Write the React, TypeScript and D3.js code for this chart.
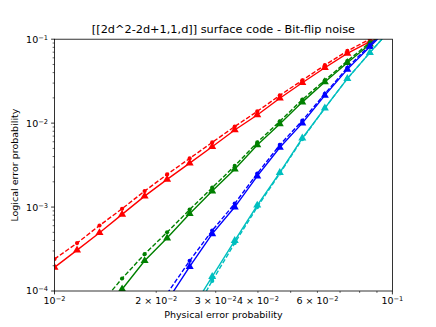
import React, { useEffect, useRef } from 'react'
import * as d3 from 'd3'

// physical error probabilities (log spaced, 15 per decade)
const physErr = [0.01, 0.01166, 0.01359, 0.01585, 0.01848, 0.02154, 0.02512, 0.02929,
  0.03415, 0.03981, 0.04642, 0.05412, 0.0631, 0.07356, 0.08577, 0.1]

// logical error probabilities (null = not plotted / far out of view)
const redSolid = [1.91e-4, 3.07e-4, 4.94e-4, 8.18e-4, 1.35e-3, 2.14e-3, 3.34e-3, 5.24e-3,
  8.28e-3, 1.25e-2, 1.98e-2, 3.03e-2, 4.57e-2, 6.79e-2, 9.33e-2, 0.126]
const redDashed = [2.40e-4, 3.72e-4, 6.03e-4, 9.55e-4, 1.55e-3, 2.45e-3, 3.80e-3, 5.89e-3,
  9.12e-3, 1.38e-2, 2.14e-2, 3.24e-2, 4.90e-2, 7.24e-2, 0.100, 0.132]
const greenSolid = [null, null, null, 1.05e-4, 2.29e-4, 4.27e-4, 8.32e-4, 1.55e-3,
  2.82e-3, 5.50e-3, 9.77e-3, 1.78e-2, 3.09e-2, 5.25e-2, 8.71e-2, 0.141]
const greenDashed = [null, null, 6.76e-5, 1.41e-4, 2.75e-4, 5.01e-4, 9.33e-4, 1.70e-3,
  3.09e-3, 5.89e-3, 1.05e-2, 1.91e-2, 3.24e-2, 5.50e-2, 9.12e-2, 0.145]
const blueSolid = [null, null, null, null, null, 7.59e-5, 1.95e-4, 4.79e-4,
  1.0e-3, 2.34e-3, 5.13e-3, 1.0e-2, 2.14e-2, 4.37e-2, 8.13e-2, 0.151]
const blueDashed = [null, null, null, null, null, 9.3e-5, 2.29e-4, 5.25e-4,
  1.10e-3, 2.51e-3, 5.50e-3, 1.07e-2, 2.24e-2, 4.57e-2, 8.51e-2, 0.158]
const cyanSolid = [null, null, null, null, null, null, 5.50e-5, 1.48e-4,
  3.98e-4, 1.05e-3, 2.57e-3, 6.61e-3, 1.51e-2, 3.39e-2, 6.92e-2, 0.138]
const cyanDashed = [null, null, null, null, null, null, 4.47e-5, 1.32e-4,
  3.72e-4, 1.0e-3, 2.51e-3, 6.46e-3, 1.51e-2, 3.39e-2, 6.92e-2, 0.138]

const series = [
  { values: redSolid, color: '#ff0000', dashed: false },
  { values: redDashed, color: '#ff0000', dashed: true },
  { values: greenSolid, color: '#008000', dashed: false },
  { values: greenDashed, color: '#008000', dashed: true },
  { values: blueSolid, color: '#0000ff', dashed: false },
  { values: blueDashed, color: '#0000ff', dashed: true },
  { values: cyanSolid, color: '#00bfbf', dashed: false },
  { values: cyanDashed, color: '#00bfbf', dashed: true },
]

const xLabeledMinor = [0.02, 0.03, 0.04, 0.06]
const title = '[[2d^2-2d+1,1,d]] surface code - Bit-flip noise'
const xTitle = 'Physical error probability'
const yTitle = 'Logical error probability'

const W = 436
const H = 327
const FONT = 'DejaVu Sans, sans-serif'

export default function App() {
  const ref = useRef<SVGSVGElement>(null)

  useEffect(() => {
    const svg = d3.select(ref.current)
    svg.selectAll('*').remove()

    const margin = { top: 39.2, right: 43.6, bottom: 36, left: 54.5 }
    const iw = W - margin.left - margin.right
    const ih = H - margin.top - margin.bottom

    const x = d3.scaleLog().domain([0.01, 0.1]).range([0, iw])
    const y = d3.scaleLog().domain([1e-4, 1e-1]).range([ih, 0])

    svg.append('defs').append('clipPath').attr('id', 'plotclip')
      .append('rect').attr('width', iw).attr('height', ih)

    const g = svg.append('g').attr('transform', `translate(${margin.left},${margin.top})`)

    const plot = g.append('g').attr('clip-path', 'url(#plotclip)')

    const lineGen = d3.line<[number, number | null]>()
      .defined(d => d[1] != null)
      .x(d => x(d[0]))
      .y(d => y(d[1] as number))

    const tri = d3.symbol().type(d3.symbolTriangle).size(28)

    series.forEach(s => {
      const pts: [number, number | null][] = physErr.map((p, i) => [p, s.values[i]])
      plot.append('path')
        .datum(pts)
        .attr('d', lineGen)
        .attr('fill', 'none')
        .attr('stroke', s.color)
        .attr('stroke-width', 1.4)
        .attr('stroke-dasharray', s.dashed ? '4.6,2' : null)

      const valid = pts.filter(d => d[1] != null)
      if (s.dashed) {
        plot.selectAll(null)
          .data(valid).enter().append('circle')
          .attr('cx', d => x(d[0]))
          .attr('cy', d => y(d[1] as number))
          .attr('r', 2.1)
          .attr('fill', s.color)
      } else {
        plot.selectAll(null)
          .data(valid).enter().append('path')
          .attr('d', tri)
          .attr('transform', d => `translate(${x(d[0])},${y(d[1] as number)})`)
          .attr('fill', s.color)
      }
    })

    // frame
    g.append('rect').attr('width', iw).attr('height', ih)
      .attr('fill', 'none').attr('stroke', '#000').attr('stroke-width', 0.8)

    const sup = (sel, base, exp) => {
      sel.append('tspan').text(base)
      sel.append('tspan').attr('font-size', '0.7em').attr('dy', '-0.45em').text(exp)
    }

    // x ticks
    const xMajor = [0.01, 0.1]
    const xMinor = x.ticks().filter(t => !xMajor.some(m => Math.abs(m - t) < 1e-9))
    xMajor.forEach(t => {
      g.append('line').attr('x1', x(t)).attr('x2', x(t)).attr('y1', ih).attr('y2', ih + 3.4)
        .attr('stroke', '#000').attr('stroke-width', 0.8)
      const tx = g.append('text').attr('x', x(t)).attr('y', ih + 13.5)
        .attr('text-anchor', 'middle').attr('font-family', FONT).attr('font-size', 9.5)
      sup(tx, '10', '\u2212' + Math.round(-Math.log10(t)))
    })
    xMinor.forEach(t => {
      g.append('line').attr('x1', x(t)).attr('x2', x(t)).attr('y1', ih).attr('y2', ih + 1.9)
        .attr('stroke', '#000').attr('stroke-width', 0.6)
    })
    xLabeledMinor.forEach(t => {
      const tx = g.append('text').attr('x', x(t)).attr('y', ih + 13.5)
        .attr('text-anchor', 'middle').attr('font-family', FONT).attr('font-size', 9.5)
      sup(tx, `${Math.round(t * 100)} \u00d7 10`, '\u22122')
    })

    // y ticks
    const yMajor = [1e-4, 1e-3, 1e-2, 1e-1]
    const yMinor = y.ticks().filter(t => !yMajor.some(m => Math.abs(Math.log10(m) - Math.log10(t)) < 1e-6))
    yMajor.forEach(t => {
      g.append('line').attr('x1', -3.4).attr('x2', 0).attr('y1', y(t)).attr('y2', y(t))
        .attr('stroke', '#000').attr('stroke-width', 0.8)
      const tx = g.append('text').attr('x', -6.5).attr('y', y(t) + 3.5)
        .attr('text-anchor', 'end').attr('font-family', FONT).attr('font-size', 9.5)
      sup(tx, '10', '\u2212' + Math.round(-Math.log10(t)))
    })
    yMinor.forEach(t => {
      g.append('line').attr('x1', -1.9).attr('x2', 0).attr('y1', y(t)).attr('y2', y(t))
        .attr('stroke', '#000').attr('stroke-width', 0.6)
    })

    g.append('text').attr('x', iw / 2).attr('y', -5.8)
      .attr('text-anchor', 'middle').attr('font-family', FONT).attr('font-size', 11.3)
      .text(title)

    g.append('text').attr('x', iw / 2).attr('y', ih + 27.5)
      .attr('text-anchor', 'middle').attr('font-family', FONT).attr('font-size', 9.5)
      .text(xTitle)

    svg.append('text')
      .attr('transform', `translate(18,${margin.top + ih / 2}) rotate(-90)`)
      .attr('text-anchor', 'middle').attr('font-family', FONT).attr('font-size', 9.5)
      .text(yTitle)
  }, [])

  return (
    <svg ref={ref} width={W} height={H}
      style={{ position: 'absolute', left: 0, top: 0, background: '#fff' }} />
  )
}
